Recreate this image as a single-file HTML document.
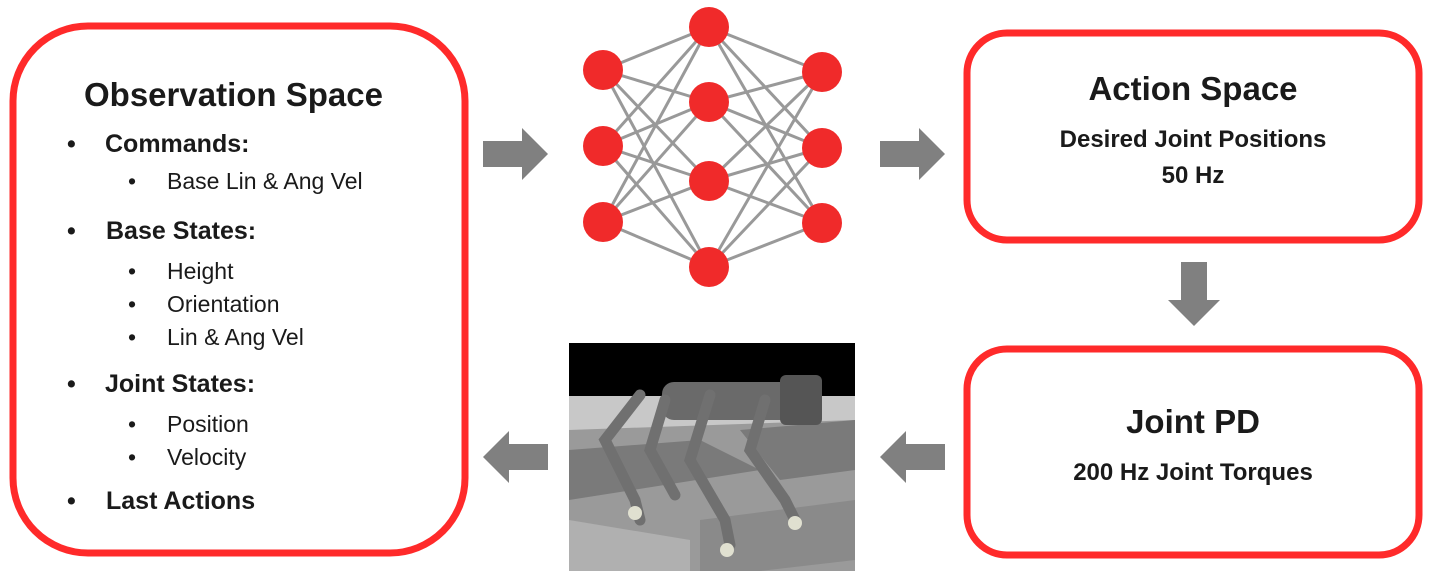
<!DOCTYPE html>
<html><head><style>
body{margin:0;width:1436px;height:581px;background:#fff;position:relative;overflow:hidden;font-family:"Liberation Sans",sans-serif;color:#1a1a1a}
.t{position:absolute;white-space:nowrap}
.b{font-weight:bold}
</style></head><body>
<svg width="1436" height="581" style="position:absolute;left:0;top:0">
<g fill="none" stroke="#ff2a2a" stroke-width="7">
<rect x="13" y="26" width="452" height="527" rx="75"/>
<rect x="967" y="33" width="452" height="207" rx="40"/>
<rect x="967" y="349" width="452" height="206" rx="40"/>
</g>
<g stroke="#999" stroke-width="3">
<line x1="603" y1="70" x2="709" y2="27"/><line x1="603" y1="70" x2="709" y2="102"/><line x1="603" y1="70" x2="709" y2="181"/><line x1="603" y1="70" x2="709" y2="267"/>
<line x1="603" y1="146" x2="709" y2="27"/><line x1="603" y1="146" x2="709" y2="102"/><line x1="603" y1="146" x2="709" y2="181"/><line x1="603" y1="146" x2="709" y2="267"/>
<line x1="603" y1="222" x2="709" y2="27"/><line x1="603" y1="222" x2="709" y2="102"/><line x1="603" y1="222" x2="709" y2="181"/><line x1="603" y1="222" x2="709" y2="267"/>
<line x1="822" y1="72" x2="709" y2="27"/><line x1="822" y1="72" x2="709" y2="102"/><line x1="822" y1="72" x2="709" y2="181"/><line x1="822" y1="72" x2="709" y2="267"/>
<line x1="822" y1="148" x2="709" y2="27"/><line x1="822" y1="148" x2="709" y2="102"/><line x1="822" y1="148" x2="709" y2="181"/><line x1="822" y1="148" x2="709" y2="267"/>
<line x1="822" y1="223" x2="709" y2="27"/><line x1="822" y1="223" x2="709" y2="102"/><line x1="822" y1="223" x2="709" y2="181"/><line x1="822" y1="223" x2="709" y2="267"/>
</g>
<g fill="#f02a2a">
<circle cx="603" cy="70" r="20"/><circle cx="603" cy="146" r="20"/><circle cx="603" cy="222" r="20"/>
<circle cx="709" cy="27" r="20"/><circle cx="709" cy="102" r="20"/><circle cx="709" cy="181" r="20"/><circle cx="709" cy="267" r="20"/>
<circle cx="822" cy="72" r="20"/><circle cx="822" cy="148" r="20"/><circle cx="822" cy="223" r="20"/>
</g>
<g fill="#808080">
<polygon points="483,141 522,141 522,128 548,154 522,180 522,167 483,167"/>
<polygon points="880,141 919,141 919,128 945,154 919,180 919,167 880,167"/>
<polygon points="1181,262 1207,262 1207,300 1220,300 1194,326 1168,300 1181,300"/>
<polygon points="945,444 906,444 906,431 880,457 906,483 906,470 945,470"/>
<polygon points="548,444 509,444 509,431 483,457 509,483 509,470 548,470"/>
</g>
<rect x="569" y="343" width="286" height="228" fill="#9a9a9a"/>
<rect x="569" y="343" width="286" height="53" fill="#000"/>
<polygon points="569,396 855,396 855,420 569,430" fill="#c8c8c8"/>
<polygon points="569,450 700,440 760,470 569,500" fill="#7a7a7a"/>
<polygon points="740,430 855,420 855,470 780,480" fill="#7a7a7a"/>
<polygon points="569,520 690,540 690,571 569,571" fill="#b0b0b0"/>
<polygon points="700,520 855,500 855,560 760,571 700,571" fill="#8a8a8a"/>
<rect x="662" y="382" width="130" height="38" rx="12" fill="#6a6a6a"/>
<rect x="780" y="375" width="42" height="50" rx="6" fill="#555"/>
<g stroke="#707070" stroke-width="11" fill="none" stroke-linecap="round">
<path d="M640,395 L605,440 L635,500 L640,520"/>
<path d="M665,400 L650,450 L675,495"/>
<path d="M710,395 L690,460 L725,520 L730,545"/>
<path d="M765,400 L750,450 L785,500 L795,520"/>
</g>
<g fill="#e0e0d0"><circle cx="635" cy="513" r="7"/><circle cx="795" cy="523" r="7"/><circle cx="727" cy="550" r="7"/></g>
</svg>
<div class="t b" style="left:84px;top:76px;font-size:33px">Observation Space</div>
<div class="t b" style="left:67px;top:130px;font-size:25px">•</div><div class="t b" style="left:105px;top:130px;font-size:25px">Commands:</div>
<div class="t" style="left:128px;top:168px;font-size:23px">•</div><div class="t" style="left:167px;top:168px;font-size:23px">Base Lin &amp; Ang Vel</div>
<div class="t b" style="left:67px;top:217px;font-size:25px">•</div><div class="t b" style="left:106px;top:217px;font-size:25px">Base States:</div>
<div class="t" style="left:128px;top:258px;font-size:23px">•</div><div class="t" style="left:167px;top:258px;font-size:23px">Height</div>
<div class="t" style="left:128px;top:291px;font-size:23px">•</div><div class="t" style="left:167px;top:291px;font-size:23px">Orientation</div>
<div class="t" style="left:128px;top:324px;font-size:23px">•</div><div class="t" style="left:167px;top:324px;font-size:23px">Lin &amp; Ang Vel</div>
<div class="t b" style="left:67px;top:370px;font-size:25px">•</div><div class="t b" style="left:105px;top:370px;font-size:25px">Joint States:</div>
<div class="t" style="left:128px;top:411px;font-size:23px">•</div><div class="t" style="left:167px;top:411px;font-size:23px">Position</div>
<div class="t" style="left:128px;top:444px;font-size:23px">•</div><div class="t" style="left:167px;top:444px;font-size:23px">Velocity</div>
<div class="t b" style="left:67px;top:487px;font-size:25px">•</div><div class="t b" style="left:106px;top:487px;font-size:25px">Last Actions</div>
<div class="t b" style="left:967px;width:452px;text-align:center;top:70px;font-size:33px">Action Space</div>
<div class="t b" style="left:967px;width:452px;text-align:center;top:126px;font-size:24px">Desired Joint Positions</div>
<div class="t b" style="left:967px;width:452px;text-align:center;top:162px;font-size:24px">50 Hz</div>
<div class="t b" style="left:967px;width:452px;text-align:center;top:403px;font-size:33px">Joint PD</div>
<div class="t b" style="left:967px;width:452px;text-align:center;top:459px;font-size:24px">200 Hz Joint Torques</div>
</body></html>
